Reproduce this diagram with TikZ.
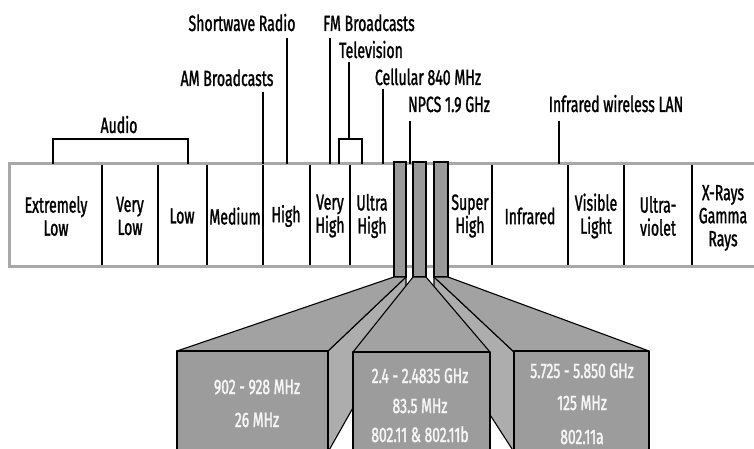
\documentclass[tikz,border=0pt]{standalone}
\usepackage{fontspec}
\setmainfont{Fira Sans}[FakeStretch=0.64, FakeBold=1.2]
\newfontfamily\boxfont{Fira Sans}[FakeStretch=0.66, FakeBold=1.4]
\definecolor{bandgray}{HTML}{A8A8A8}
\definecolor{barfill}{HTML}{999999}
\definecolor{frontfill}{HTML}{9C9C9C}
\definecolor{topfill}{HTML}{A2A2A2}
\definecolor{sidefill}{HTML}{ADADAD}
\definecolor{boxtext}{HTML}{F6F6F6}
\begin{document}
\begin{tikzpicture}[x=1pt,y=-1pt,
  lbl/.style={font=\fontsize{22}{23}\selectfont, inner sep=0pt, anchor=base},
  cell/.style={font=\fontsize{22}{23}\selectfont, inner sep=0pt, align=center},
  btxt/.style={font=\boxfont\fontsize{21}{22}\selectfont, inner sep=0pt, anchor=base, text=boxtext},
  lead/.style={draw=black, line width=1.2pt},
  divider/.style={draw=black, line width=1.2pt},
  barstyle/.style={fill=barfill, draw=black, line width=1.1pt},
  face/.style={draw=black, line width=1.1pt, line join=round}]
\useasboundingbox (0,0) rectangle (754,449);
\clip (0,0) rectangle (754,449);
% spectrum band
\draw[draw=bandgray, line width=3pt, fill=white] (9.5,164) rectangle (780,266);
\foreach \x in {102,158,207,263,310,350,492,568,624,692}
  \draw[divider] (\x,165.5) -- (\x,264.5);
% leader lines and brackets
\coordinate (swA) at (287,38);  \coordinate (swB) at (287,164);
\coordinate (amA) at (263,92);  \coordinate (amB) at (263,164);
\coordinate (fmA) at (330,38);  \coordinate (fmB) at (330,164);
\coordinate (tvA) at (349,62);  \coordinate (tvB) at (349,139);
\coordinate (tvL) at (339,164); \coordinate (tvR) at (362,164);
\coordinate (ceA) at (383,89);  \coordinate (ceB) at (383,164);
\coordinate (npA) at (410,121); \coordinate (npB) at (410,164);
\coordinate (irA) at (559,121); \coordinate (irB) at (559,164);
\coordinate (auL) at (53,164);  \coordinate (auR) at (188,164);
\draw[lead] (swA) -- (swB);
\draw[lead] (amA) -- (amB);
\draw[lead] (fmA) -- (fmB);
\draw[lead] (tvA) -- (tvB);
\draw[lead] (tvL) |- (tvB) -| (tvR);
\draw[lead] (ceA) -- (ceB);
\draw[lead] (npA) -- (npB);
\draw[lead] (irA) -- (irB);
\draw[lead] (auL) |- (120,139) -| (auR);
% labels
\node[lbl] (sw) at (242,31) {Shortwave Radio};
\node[lbl] (fm) at (369,31) {FM Broadcasts};
\node[lbl] (tv) at (371,58) {Television};
\node[lbl] (am) at (227,86) {AM Broadcasts};
\node[lbl] (ce) at (428,85) {Cellular 840 MHz};
\node[lbl] (np) at (449,112) {NPCS 1.9 GHz};
\node[lbl] (ir) at (616,112) {Infrared wireless LAN};
\node[lbl] (au) at (119,133) {Audio};
% band cells
\node[cell] (c1) at (56,216) {Extremely\\Low};
\node[cell] (c2) at (130,216) {Very\\Low};
\node[cell] (c3) at (182,216) {Low};
\node[cell] (c4) at (235,216) {Medium};
\node[cell] (c5) at (286,216) {High};
\node[cell] (c6) at (330,216) {Very\\High};
\node[cell] (c7) at (372,216) {Ultra\\High};
\node[cell] (c8) at (470,216) {Super\\High};
\node[cell] (c9) at (530,216) {Infrared};
\node[cell] (c10) at (596,216) {Visible\\Light};
\node[cell] (c11) at (658,216) {Ultra-\\violet};
\node[cell] (c12) at (723,218) {X-Rays\\Gamma\\Rays};
% bars
\draw[barstyle] (394,162) rectangle (406,277);
\draw[barstyle] (413,162) rectangle (426,277);
\draw[barstyle] (434,162) rectangle (448,277);
% box 1 (902 MHz)
\draw[face, fill=sidefill] (406,277) -- (328,351) -- (328,452) -- (406,314) -- cycle;
\draw[face, fill=topfill] (394,277) -- (406,277) -- (328,351) -- (177,351) -- cycle;
\draw[face, fill=frontfill] (177,351) rectangle (328,455);
% box 3 (5 GHz)
\draw[face, fill=sidefill] (434,277) -- (514,352) -- (514,452) -- (434,328) -- cycle;
\draw[face, fill=topfill] (434,277) -- (448,277) -- (649,351) -- (514,352) -- cycle;
\draw[face, fill=frontfill] (514,351) rectangle (649,455);
% box 2 (2.4 GHz)
\draw[face, fill=topfill] (413,277) -- (426,277) -- (490,352) -- (353,352) -- cycle;
\draw[face, fill=frontfill] (353,352) rectangle (490,455);
% box texts
\node[btxt] (b1a) at (257,394) {902 - 928 MHz};
\node[btxt] (b1b) at (257,427) {26 MHz};
\node[btxt] (b2a) at (420,383) {2.4 - 2.4835 GHz};
\node[btxt] (b2b) at (420,413) {83.5 MHz};
\node[btxt] (b2c) at (420,442) {802.11 \& 802.11b};
\node[btxt] (b3a) at (582,378) {5.725 - 5.850 GHz};
\node[btxt] (b3b) at (582,410) {125 MHz};
\node[btxt] (b3c) at (582,444) {802.11a};
\end{tikzpicture}
\end{document}
